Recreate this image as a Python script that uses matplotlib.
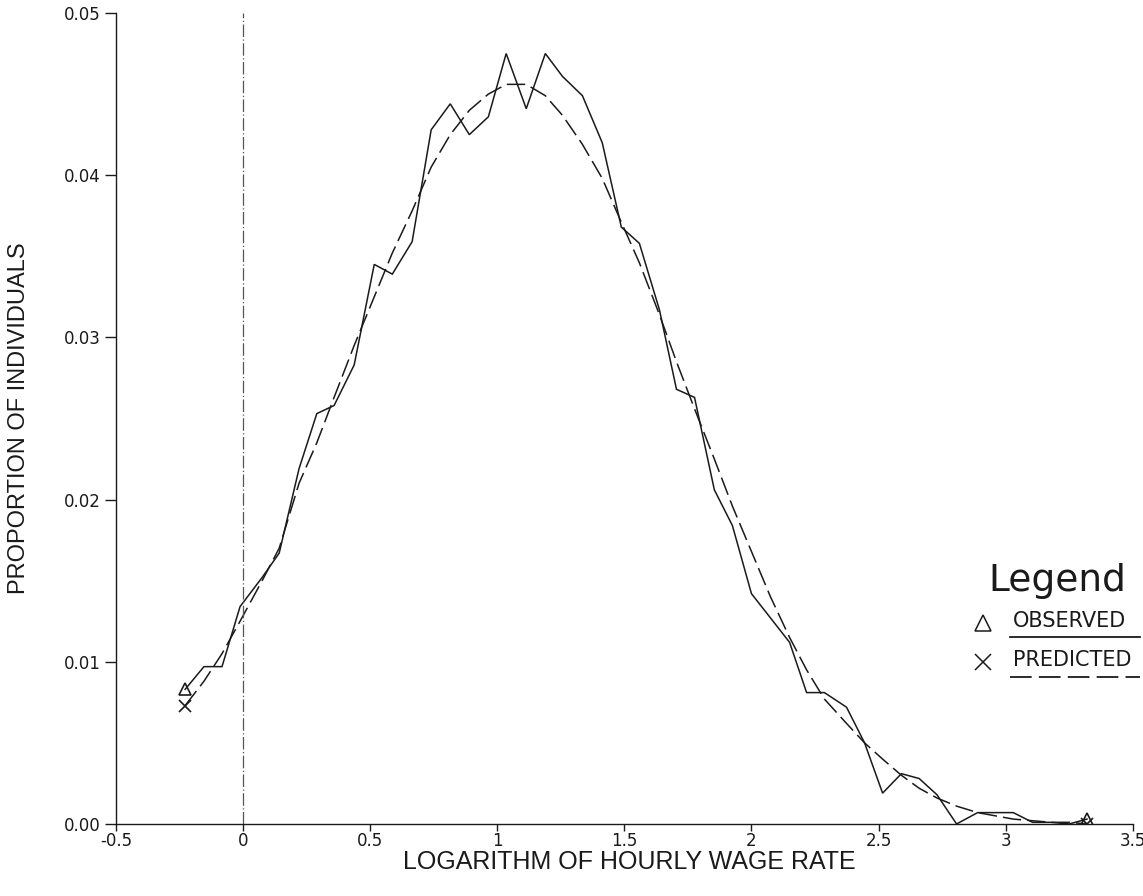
import matplotlib
matplotlib.use("Agg")
import matplotlib.pyplot as plt
from matplotlib.lines import Line2D

# ---- data ----
log_wage = [-0.228, -0.154, -0.083, -0.012, 0.075, 0.142, 0.220, 0.290, 0.358, 0.437,
            0.516, 0.587, 0.665, 0.740, 0.815, 0.890, 0.965, 1.035, 1.114, 1.189,
            1.256, 1.335, 1.413, 1.488, 1.559, 1.638, 1.705, 1.776, 1.854, 1.925,
            2.000, 2.075, 2.150, 2.217, 2.287, 2.374, 2.445, 2.516, 2.590, 2.660,
            2.730, 2.807, 2.890, 2.960, 3.030, 3.106, 3.180, 3.250, 3.320]

observed = [0.0083, 0.0097, 0.0097, 0.0134, 0.0152, 0.0167, 0.0219, 0.0253, 0.0258, 0.0283,
            0.0345, 0.0339, 0.0359, 0.0428, 0.0444, 0.0425, 0.0436, 0.0475, 0.0441, 0.0475,
            0.0461, 0.0449, 0.0420, 0.0368, 0.0358, 0.0317, 0.0268, 0.0263, 0.0206, 0.0184,
            0.0142, 0.0127, 0.0112, 0.0081, 0.0081, 0.0072, 0.0050, 0.0019, 0.0031, 0.0028,
            0.0018, 0.0000, 0.0007, 0.0007, 0.0007, 0.0001, 0.0001, 0.0000, 0.0003]

predicted = [0.0073, 0.0088, 0.0105, 0.0125, 0.0150, 0.0170, 0.0210, 0.0235, 0.0263, 0.0295,
             0.0325, 0.0352, 0.0378, 0.0405, 0.0425, 0.0440, 0.0450, 0.0456, 0.0456, 0.0449,
             0.0437, 0.0419, 0.0398, 0.0371, 0.0346, 0.0314, 0.0285, 0.0256, 0.0225, 0.0196,
             0.0168, 0.0140, 0.0115, 0.0095, 0.0077, 0.0062, 0.0050, 0.0040, 0.0030, 0.0022,
             0.0016, 0.0011, 0.0007, 0.0005, 0.0003, 0.0002, 0.0001, 0.0001, 0.0000]

x_ticks = [-0.5, 0, 0.5, 1, 1.5, 2, 2.5, 3, 3.5]
x_tick_labels = ["-0.5", "0", "0.5", "1", "1.5", "2", "2.5", "3", "3.5"]
y_ticks = [0.00, 0.01, 0.02, 0.03, 0.04, 0.05]
y_tick_labels = ["0.00", "0.01", "0.02", "0.03", "0.04", "0.05"]

plt.rcParams['font.family'] = ['DejaVu Sans']
ink = '#1a1a1a'

fig = plt.figure(figsize=(11.43, 8.96), dpi=100)
ax = fig.add_axes([0.1015, 0.0804, 0.8895, 0.9051])

ax.plot(log_wage, observed, color=ink, lw=1.1, solid_joinstyle='miter')
ax.plot(log_wage, predicted, color=ink, lw=1.1, linestyle=(0, (12, 4)))

# end markers
ax.plot([log_wage[0], log_wage[-1]], [observed[0], observed[-1]], linestyle='none',
        marker='^', markersize=9, markerfacecolor='none', markeredgecolor=ink, mew=1.2)
ax.plot([log_wage[0], log_wage[-1]], [predicted[0], predicted[-1]], linestyle='none',
        marker='x', markersize=9, color=ink, mew=1.2)

ax.axvline(0, color='#555555', lw=0.9, linestyle=(0, (10, 2, 1, 2)))

ax.set_xlim(-0.5, 3.5)
ax.set_ylim(0, 0.05)
ax.set_xticks(x_ticks)
ax.set_xticklabels(x_tick_labels)
ax.set_yticks(y_ticks)
ax.set_yticklabels(y_tick_labels)
ax.tick_params(direction='out', width=1.0, colors=ink, labelsize=12)
ax.tick_params(axis='y', length=8, pad=3)
ax.tick_params(axis='x', length=5, pad=1)
for s in ['top', 'right']:
    ax.spines[s].set_visible(False)
for s in ['left', 'bottom']:
    ax.spines[s].set_color(ink)
    ax.spines[s].set_linewidth(1.0)

ax.set_xlabel("LOGARITHM OF HOURLY WAGE RATE", fontsize=18, color=ink,
              family=['Liberation Sans', 'DejaVu Sans'])
ax.xaxis.set_label_coords(0.505, -0.032)
ax.set_ylabel("PROPORTION OF INDIVIDUALS", fontsize=17, color=ink,
              family=['Liberation Sans', 'DejaVu Sans'])
ax.yaxis.set_label_coords(-0.0845, 0.5)

# legend drawn by hand
fig.text(0.865, 0.352, "Legend", fontsize=27, color=ink, ha='left', va='center')
fig.lines.append(Line2D([0.860], [0.305], transform=fig.transFigure, marker='^',
                        markersize=11, markerfacecolor='none', markeredgecolor=ink, mew=1.1,
                        linestyle='none'))
fig.lines.append(Line2D([0.860], [0.261], transform=fig.transFigure, marker='x',
                        markersize=11, color=ink, mew=1.1, linestyle='none'))
fig.text(0.886, 0.307, "OBSERVED", fontsize=15, color=ink, ha='left', va='center')
fig.text(0.886, 0.263, "PREDICTED", fontsize=15, color=ink, ha='left', va='center')
fig.lines.append(Line2D([0.884, 0.997], [0.289, 0.289], transform=fig.transFigure,
                        color=ink, lw=1.3))
fig.lines.append(Line2D([0.884, 0.997], [0.244, 0.244], transform=fig.transFigure,
                        color=ink, lw=1.3, linestyle=(0, (12, 4))))

fig.savefig("out.png", dpi=100, facecolor='white')
